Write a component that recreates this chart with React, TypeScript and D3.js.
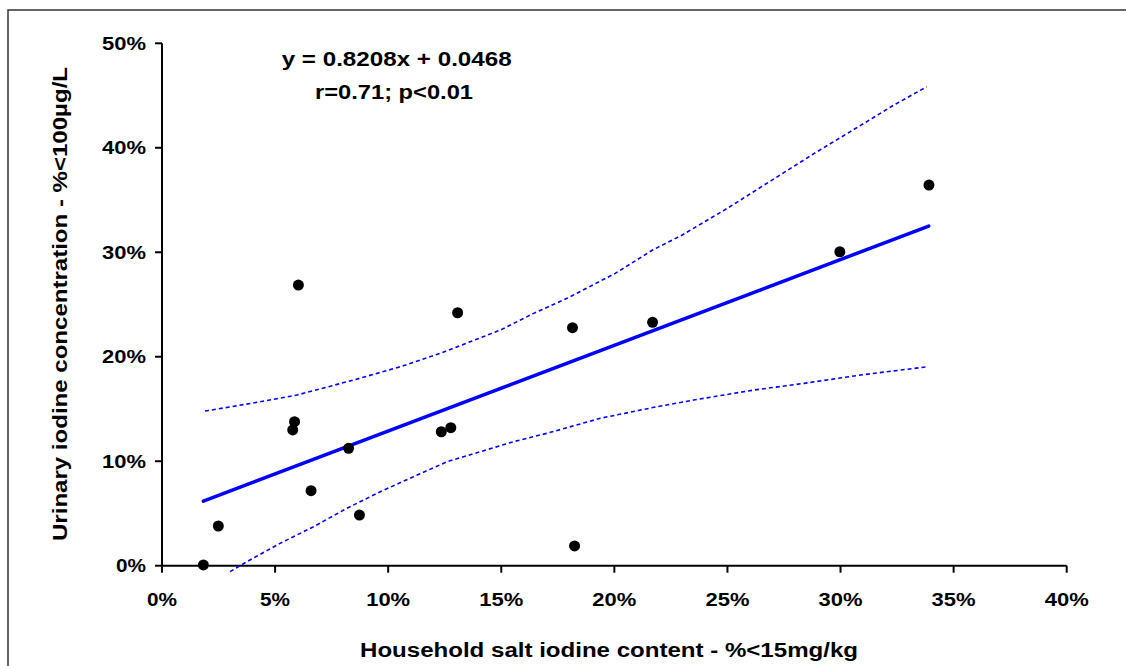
import React from "react";
import * as d3 from "d3";

// Household salt iodine content (% < 15 mg/kg) vs urinary iodine (% < 100 µg/L)
const saltPct = [1.83, 2.49, 5.86, 5.78, 6.03, 6.59, 8.25, 8.73, 12.35, 12.77, 13.07, 18.15, 18.24, 21.69, 29.97, 33.91];
const urinePct = [0.07, 3.8, 13.78, 12.99, 26.86, 7.18, 11.23, 4.85, 12.82, 13.21, 24.21, 22.78, 1.89, 23.29, 30.05, 36.43];

// regression y = 0.8208x + 0.0468 drawn over the data range
const slope = 0.8208;
const intercept = 0.0468;
const fitRange = [1.83, 33.9];

// confidence band, [x%, y%]
const upperBand: [number, number][] = [
  [1.9, 14.8], [3.08, 15.22], [4.34, 15.69], [5.96, 16.33], [8.47, 17.77], [10.53, 19.04],
  [12.3, 20.33], [14.96, 22.55], [16.43, 24.15], [17.91, 25.59], [20.04, 27.98], [21.69, 30.21],
  [23.0, 31.65], [24.99, 34.2], [27.2, 37.22], [28.72, 39.3], [31.03, 42.33], [32.36, 44.09], [33.81, 45.84],
];
const lowerBand: [number, number][] = [
  [3.01, -0.57], [3.75, 0.38], [5.22, 2.14], [6.7, 3.73], [8.17, 5.49], [9.65, 7.08], [11.12, 8.52],
  [12.6, 9.95], [14.07, 10.91], [15.54, 11.87], [17.02, 12.67], [19.38, 14.11], [21.89, 15.22],
  [23.51, 15.86], [26.16, 16.81], [28.38, 17.45], [30.88, 18.25], [33.83, 19.04],
];

const xTicks = [0, 5, 10, 15, 20, 25, 30, 35, 40];
const yTicks = [0, 10, 20, 30, 40, 50];

const titleLine1 = "y = 0.8208x + 0.0468";
const titleLine2 = "r=0.71; p<0.01";
const xTitle = "Household salt iodine content - %<15mg/kg";
const yTitle = "Urinary iodine concentration - %<100µg/L";

const FONT = "'Liberation Sans', Arial, Helvetica, sans-serif";

export default function App() {
  const x = d3.scaleLinear().domain([0, 40]).range([162, 1066.7]);
  const y = d3.scaleLinear().domain([0, 50]).range([565.7, 43.3]);
  const line = d3
    .line<[number, number]>()
    .x((d) => x(d[0]))
    .y((d) => y(d[1]));
  const fit: [number, number][] = fitRange.map((v) => [v, (slope * (v / 100) + intercept) * 100]);
  const labW = (s: string) => (s.length === 2 ? 30 : 44);

  return (
    <svg
      width={1126}
      height={666}
      style={{ position: "absolute", left: 0, top: 0, background: "#fff" }}
      fontFamily={FONT}
    >
      <rect x={0} y={0} width={1126} height={666} fill="#fff" />
      <rect x={8} y={10} width={1140} height={700} fill="none" stroke="#333" strokeWidth={1.5} />

      {/* axes */}
      <line x1={x(0)} x2={x(40)} y1={y(0)} y2={y(0)} stroke="#000" strokeWidth={2} />
      <line x1={x(0)} x2={x(0)} y1={y(0)} y2={y(50)} stroke="#000" strokeWidth={2} />
      {xTicks.map((t) => (
        <g key={"xt" + t}>
          <line x1={x(t)} x2={x(t)} y1={y(0)} y2={y(0) + 7} stroke="#000" strokeWidth={2} />
          <text
            x={x(t)}
            y={606}
            textAnchor="middle"
            fontSize={18}
            fontWeight="bold"
            textLength={labW(`${t}%`)}
            lengthAdjust="spacingAndGlyphs"
          >{`${t}%`}</text>
        </g>
      ))}
      {yTicks.map((t) => (
        <g key={"yt" + t}>
          <line x1={x(0) - 7} x2={x(0)} y1={y(t)} y2={y(t)} stroke="#000" strokeWidth={2} />
          <text
            x={146}
            y={y(t) + 6.5}
            textAnchor="end"
            fontSize={18}
            fontWeight="bold"
            textLength={labW(`${t}%`)}
            lengthAdjust="spacingAndGlyphs"
          >{`${t}%`}</text>
        </g>
      ))}

      {/* confidence band */}
      <path d={line(upperBand) || ""} fill="none" stroke="#0000ff" strokeWidth={1.6} strokeDasharray="4,3" />
      <path d={line(lowerBand) || ""} fill="none" stroke="#0000ff" strokeWidth={1.6} strokeDasharray="4,3" />

      {/* regression */}
      <path d={line(fit) || ""} fill="none" stroke="#0000ff" strokeWidth={3.5} strokeLinecap="round" />

      {/* points */}
      {saltPct.map((v, i) => (
        <circle key={"p" + i} cx={x(v)} cy={y(urinePct[i])} r={5.5} fill="#000" />
      ))}

      {/* annotation */}
      <text x={396.7} y={66} textAnchor="middle" fontSize={20} fontWeight="bold" textLength={230} lengthAdjust="spacingAndGlyphs">
        {titleLine1}
      </text>
      <text x={394} y={98.5} textAnchor="middle" fontSize={20} fontWeight="bold" textLength={158} lengthAdjust="spacingAndGlyphs">
        {titleLine2}
      </text>

      {/* axis titles */}
      <text x={609} y={657} textAnchor="middle" fontSize={20} fontWeight="bold" textLength={498} lengthAdjust="spacingAndGlyphs">
        {xTitle}
      </text>
      <text
        transform={`translate(67,${304}) rotate(-90)`}
        textAnchor="middle"
        fontSize={20}
        fontWeight="bold"
        textLength={474}
        lengthAdjust="spacingAndGlyphs"
      >
        {yTitle}
      </text>
    </svg>
  );
}
